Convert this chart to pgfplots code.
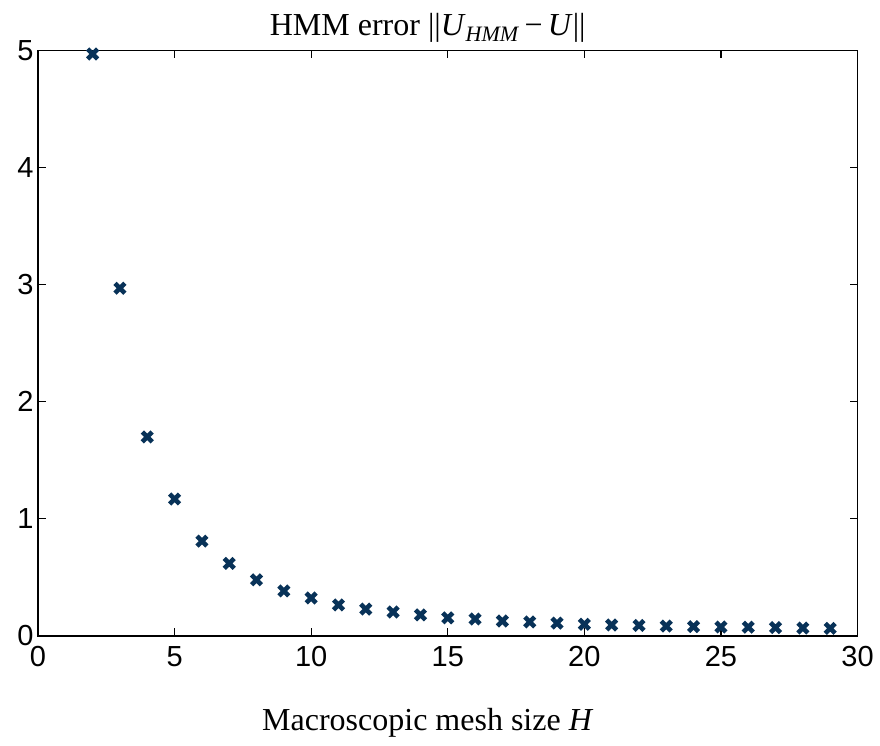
\documentclass[border=0pt]{standalone}
\usepackage{pgfplots}
\pgfplotsset{compat=1.18}
\usepackage{fontspec}
\setmainfont{Liberation Serif}
\setsansfont{Liberation Sans}
\definecolor{mk}{RGB}{8,50,88}
\begin{document}
\begin{tikzpicture}
\begin{axis}[
  scale only axis, width=819.5pt, height=585.5pt,
  xmin=0, xmax=30, ymin=0, ymax=5,
  xtick={0,5,...,30}, ytick={0,1,...,5},
  tick align=inside, major tick length=8pt,
  axis line style={line width=1.5pt},
  every tick/.style={black, line width=1.2pt},
  tick label style={font=\fontsize{29}{32}\selectfont\sffamily, /pgf/number format/assume math mode=true},
  yticklabel style={xshift=-1pt},
  xticklabel style={yshift=-7pt},
  clip=false,
]
\addplot[only marks, mark=x, mark size=7pt, mark options={line width=4.6pt, color=mk}] coordinates {
(2,4.97) (3,2.97) (4,1.70) (5,1.17) (6,0.81) (7,0.62) (8,0.48) (9,0.385) (10,0.325)
(11,0.265) (12,0.23) (13,0.205) (14,0.18) (15,0.155) (16,0.145) (17,0.128) (18,0.12)
(19,0.11) (20,0.10) (21,0.094) (22,0.09) (23,0.085) (24,0.08) (25,0.077) (26,0.075)
(27,0.072) (28,0.068) (29,0.065)
};
\coordinate (ll) at (rel axis cs:0,0);
\coordinate (tc) at (rel axis cs:0.5,1);
\coordinate (bc) at (rel axis cs:0.5,0);
\end{axis}
\node[anchor=base, font=\fontsize{32}{36}\selectfont] at ([xshift=-20pt,yshift=15pt]tc) {HMM error ||\textit{U}\raisebox{-6pt}{\fontsize{22}{24}\selectfont\textit{HMM}}\,−\,\textit{U}||};
\node[anchor=base, font=\fontsize{32}{36}\selectfont] at ([xshift=-20pt,yshift=-94pt]bc) {Macroscopic mesh size \textit{H}};
\pgfresetboundingbox
\path (ll) ++(-38pt,-110pt) rectangle ++(880pt,746pt);
\end{tikzpicture}
\end{document}
